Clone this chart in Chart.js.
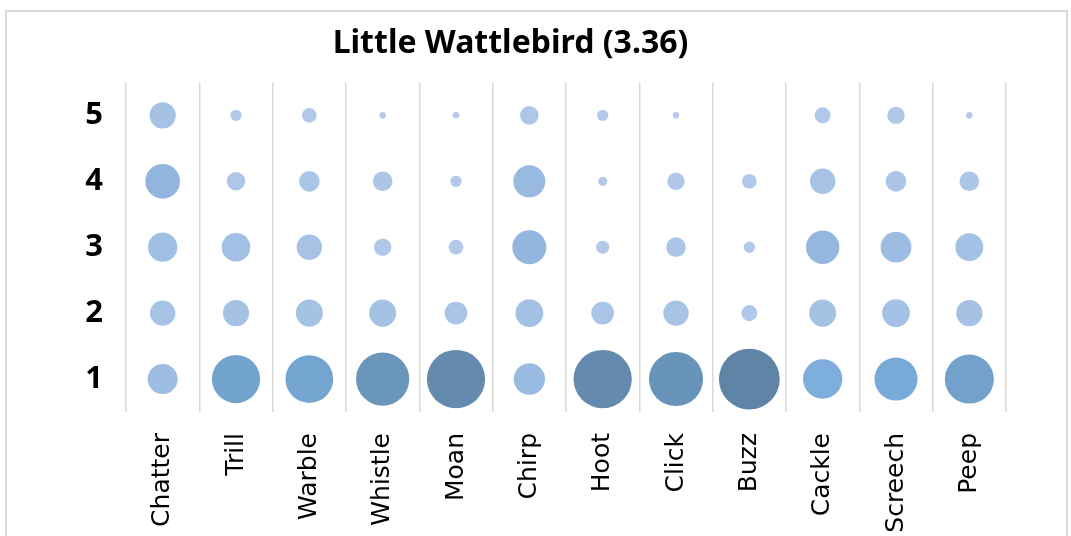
<!DOCTYPE html>
<html>
<head>
<meta charset="utf-8">
<title>Little Wattlebird</title>
<script src="https://cdn.jsdelivr.net/npm/chart.js@4.4.1/dist/chart.umd.min.js"></script>
<style>
  html, body { margin: 0; padding: 0; background: #fff; overflow: hidden; }
  #wrap { position: relative; width: 1071px; height: 536px; }
  #frame {
    position: absolute; left: 5px; top: 10px; width: 1059px; height: 540px;
    border: 2px solid #d9d9d9; box-sizing: content-box; pointer-events: none;
  }
  canvas { position: absolute; left: 0; top: 0; }
</style>
</head>
<body>
<div id="wrap">
  <canvas id="chart" width="1071" height="536"></canvas>
  <div id="frame"></div>
</div>
<script>
// call types (x axis)
const categories = ["Chatter", "Trill", "Warble", "Whistle", "Moan", "Chirp",
                    "Hoot", "Click", "Buzz", "Cackle", "Screech", "Peep"];
// rating levels (y axis)
const levels = [1, 2, 3, 4, 5];

// % of responses at each level, per call type
const pctLevel1 = [21, 54, 53, 66, 79, 23, 79, 68, 86, 36, 43, 56];
const pctLevel2 = [15, 16, 17, 17, 12, 18, 12, 15,  6, 17, 18, 16];
const pctLevel3 = [20, 19, 15,  7,  5, 27,  4,  9,  3, 26, 22, 18];
const pctLevel4 = [28,  8, 10,  9,  3, 24,  2,  7,  5, 15, 10,  9];
const pctLevel5 = [16,  3,  5,  1,  1,  8,  3,  1,  0,  6,  7,  1];

const byLevel = [pctLevel1, pctLevel2, pctLevel3, pctLevel4, pctLevel5];

// bubble area proportional to value (like Excel)
const MAX_R = 30.4;
const maxPct = Math.max(...byLevel.flat());
function radius(v) { return v > 0 ? MAX_R * Math.sqrt(v / maxPct) : 0; }

// colour ramp: light lavender-blue -> bright blue -> slate
const stops = [
  [0,  [182, 203, 236]],
  [18, [163, 193, 228]],
  [28, [145, 181, 222]],
  [37, [122, 173, 220]],
  [54, [115, 164, 207]],
  [66, [106, 150, 188]],
  [86, [96, 132, 166]]
];
function shade(v) {
  for (let i = 1; i < stops.length; i++) {
    if (v <= stops[i][0]) {
      const [a, ca] = stops[i - 1], [b, cb] = stops[i];
      const t = (v - a) / (b - a);
      const c = ca.map((x, k) => Math.round(x + (cb[k] - x) * t));
      return `rgb(${c[0]},${c[1]},${c[2]})`;
    }
  }
  const c = stops[stops.length - 1][1];
  return `rgb(${c[0]},${c[1]},${c[2]})`;
}

const points = [];
const colors = [];
levels.forEach((lvl, li) => {
  categories.forEach((cat, ci) => {
    const v = byLevel[li][ci];
    points.push({ x: cat, y: lvl, r: radius(v), v });
    colors.push(shade(v));
  });
});

const PAD_LEFT = 15, AREA_LEFT = 126, AREA_BOTTOM = 412, H = 536;

new Chart(document.getElementById("chart"), {
  type: "bubble",
  data: {
    labels: categories,
    datasets: [{
      data: points,
      backgroundColor: colors,
      borderWidth: 0,
      hoverBorderWidth: 0
    }]
  },
  options: {
    responsive: false,
    animation: false,
    events: [],
    layout: { padding: { top: 10, left: PAD_LEFT, right: 65, bottom: 0 } },
    plugins: {
      legend: { display: false },
      tooltip: { enabled: false },
      title: {
        display: true,
        text: "Little Wattlebird (3.36)",
        color: "#000",
        font: { family: "'Noto Sans', sans-serif", size: 32, weight: "bold" },
        padding: { top: 15, bottom: 19 }
      }
    },
    scales: {
      x: {
        type: "category",
        offset: true,
        grid: { offset: true, color: "#d9d9d9", lineWidth: 1.5, drawTicks: false },
        border: { display: false },
        ticks: {
          color: "#000",
          font: { family: "'DejaVu Sans', sans-serif", size: 25 },
          minRotation: 90,
          maxRotation: 90,
          padding: 21,
          autoSkip: false
        },
        afterFit(scale) { scale.height = H - AREA_BOTTOM; }
      },
      y: {
        type: "linear",
        min: 0.5,
        max: 5.5,
        grid: { display: false, drawTicks: false },
        border: { display: false },
        afterBuildTicks(scale) { scale.ticks = levels.map(v => ({ value: v })); },
        ticks: {
          color: "#000",
          font: { family: "'Noto Sans', sans-serif", size: 31, weight: "bold" },
          padding: 23
        },
        afterFit(scale) { scale.width = AREA_LEFT - PAD_LEFT; }
      }
    }
  }
});
</script>
</body>
</html>
